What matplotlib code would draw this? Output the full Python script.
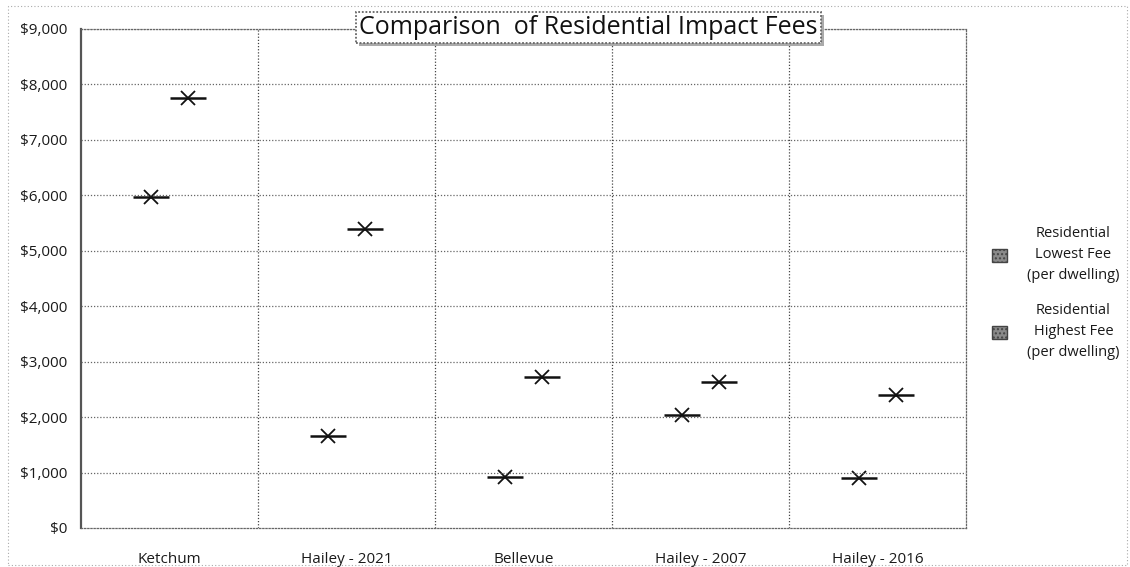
import numpy as np
import matplotlib.pyplot as plt
from matplotlib.patches import Rectangle
from matplotlib.ticker import FuncFormatter

# fee data (dollars per dwelling)
towns = ['Ketchum', 'Hailey - 2021', 'Bellevue', 'Hailey - 2007', 'Hailey - 2016']
lowest_fee = [5975, 1650, 920, 2030, 900]
highest_fee = [7750, 5400, 2725, 2640, 2400]
labels = ['Residential\nLowest Fee\n(per dwelling)', 'Residential\nHighest Fee\n(per dwelling)']
title = 'Comparison  of Residential Impact Fees'

plt.rcParams['font.family'] = ['Open Sans', 'DejaVu Sans']

fig = plt.figure(figsize=(11.3, 5.67), dpi=100)
ax = fig.add_axes([0.0717, 0.0688, 0.7833, 0.8802])

x = np.arange(len(towns))
off = 0.105
for xs, ys in [(x - off, lowest_fee), (x + off, highest_fee)]:
    ax.plot(xs, ys, linestyle='none', marker='_', markersize=26, markeredgewidth=1.8, color='#111111')
    ax.plot(xs, ys, linestyle='none', marker='x', markersize=10, markeredgewidth=1.3, color='#111111')

ax.set_xlim(-0.5, len(towns) - 0.5)
ax.set_ylim(0, 9000)
ax.set_yticks(np.arange(0, 9001, 1000))
ax.yaxis.set_major_formatter(FuncFormatter(lambda v, p: '${:,.0f}'.format(v)))
ax.set_xticks(x)
ax.set_xticklabels(towns)
ax.tick_params(axis='both', length=0, labelsize=11, colors='#1a1a1a')
ax.tick_params(axis='x', pad=17)
ax.tick_params(axis='y', pad=10)

# dotted grid
for v in np.arange(1000, 9001, 1000):
    ax.axhline(v, color='#666666', linestyle=(0, (1, 1.5)), linewidth=0.9)
for b in np.arange(0.5, len(towns) - 0.5, 1):
    ax.axvline(b, color='#444444', linestyle=(0, (1, 1.5)), linewidth=0.9)
for side in ['top', 'right', 'bottom']:
    ax.spines[side].set_linestyle((0, (1, 1.5)))
    ax.spines[side].set_color('#666666')
    ax.spines[side].set_linewidth(0.9)
ax.spines['left'].set_linestyle((0, (1, 1)))
ax.spines['left'].set_color('#555555')
ax.spines['left'].set_linewidth(1.6)

# title in a box with a soft shadow
fig.text(0.5235, 0.946, title, ha='center', va='center', fontsize=18, color='#999999', alpha=0.0,
         bbox=dict(boxstyle='square,pad=0.12', facecolor='#aaaaaa', edgecolor='none'))
fig.text(0.521, 0.951, title, ha='center', va='center', fontsize=18, color='#111111',
         bbox=dict(boxstyle='square,pad=0.12', facecolor='white', edgecolor='#666666',
                   linestyle=(0, (1, 1)), linewidth=1.3))

# legend
handles = [Rectangle((0, 0), 1, 1, facecolor='#8a8a8a', edgecolor='#444444', hatch='....')
           for _ in labels]
leg = fig.legend(handles, labels, loc='center left', bbox_to_anchor=(0.878, 0.483),
                 frameon=False, fontsize=10.5, handlelength=1.0, handleheight=1.0,
                 handletextpad=1.4, labelspacing=1.35, borderpad=0, borderaxespad=0)
for t in leg.get_texts():
    t.set_multialignment('center')
    t.set_color('#1a1a1a')
    t.set_linespacing(1.55)

# outer chart border
fig.patches.append(Rectangle((0.007, 0.004), 0.99, 0.985, transform=fig.transFigure,
                             fill=False, edgecolor='#aaaaaa', linestyle=(0, (1, 2)),
                             linewidth=0.8))

plt.savefig('out.png', dpi=100)
